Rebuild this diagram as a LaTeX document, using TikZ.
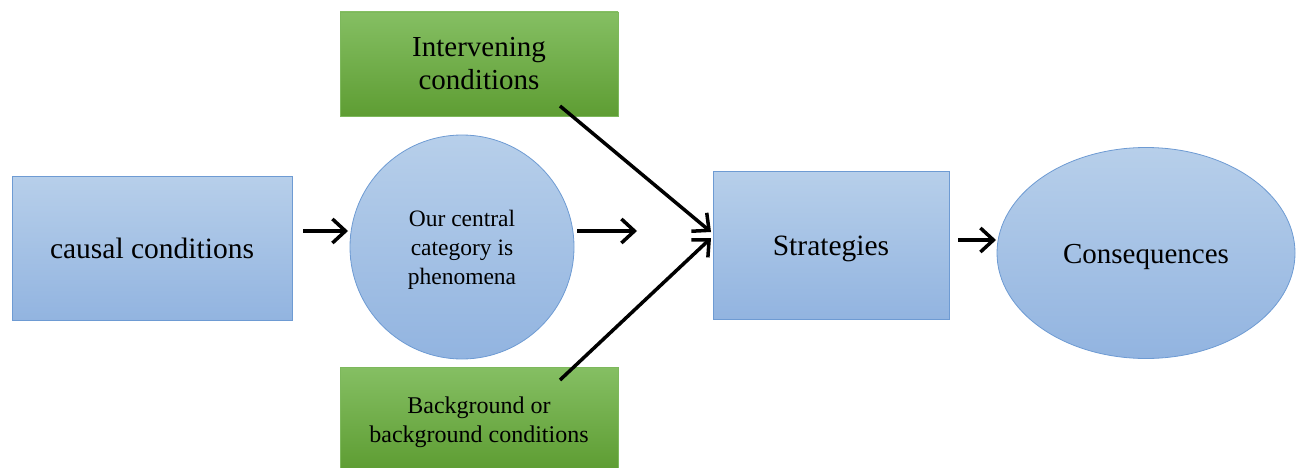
\documentclass[tikz,border=0pt]{standalone}
\usepackage{fontspec}
\setmainfont{Liberation Serif}
\usetikzlibrary{arrows.meta,shapes.geometric}
\definecolor{blueTop}{HTML}{B7CFEA}
\definecolor{blueBot}{HTML}{92B4E0}
\definecolor{blueLine}{HTML}{6E9BD3}
\definecolor{greenTop}{HTML}{85BF63}
\definecolor{greenBot}{HTML}{5E9D33}
\definecolor{greenLine}{HTML}{7DB85C}
\tikzset{
  bluebox/.style={draw=blueLine, line width=0.8pt, top color=blueTop, bottom color=blueBot, inner sep=0pt, align=center},
  greenbox/.style={draw=greenLine, line width=0.6pt, top color=greenTop, bottom color=greenBot, inner sep=0pt, align=center},
  flow/.style={line width=3.5pt, -{Straight Barb[length=13pt, width=24pt, line width=3.5pt]}}
}
\begin{document}
\begin{tikzpicture}[x=1pt, y=-1pt]
\useasboundingbox (0,0) rectangle (1300,468);
% boxes and shapes, each with its text set slightly off centre where needed
\node[bluebox, minimum width=280pt, minimum height=144pt, font=\fontsize{29.5}{34}\selectfont] (cause) at (152,248) {causal conditions};
\node[bluebox, circle, minimum size=224pt,
      label={[font=\fontsize{23.5}{29}\selectfont, align=center, yshift=-2.5pt]center:Our central\\category is\\phenomena}] (core) at (462,247) {};
\node[greenbox, minimum width=278pt, minimum height=104pt, font=\fontsize{29}{33}\selectfont] (inter) at (479,64) {Intervening\\conditions};
\node[greenbox, minimum width=278pt, minimum height=101pt,
      label={[font=\fontsize{24}{29}\selectfont, align=center, yshift=-4pt]center:Background or\\background conditions}] (back) at (479,418) {};
\node[bluebox, minimum width=236pt, minimum height=148pt,
      label={[font=\fontsize{29.5}{34}\selectfont, yshift=-4pt]center:Strategies}] (strat) at (831,245) {};
\node[bluebox, ellipse, minimum width=298pt, minimum height=211pt,
      label={[font=\fontsize{29}{34}\selectfont, yshift=-4pt]center:Consequences}] (cons) at (1146,253) {};
% connector end points
\coordinate (a1s) at (303,231);
\coordinate (a1e) at (348,231);
\coordinate (a2s) at (577,231);
\coordinate (a2e) at (637,231);
\coordinate (a3s) at (958,240);
\coordinate (a3e) at (996,240);
\coordinate (d1s) at (560,106);
\coordinate (d1e) at (711,232);
\coordinate (d2s) at (560,380);
\coordinate (d2e) at (711,238);
% connectors
\draw[flow] (a1s) -- (a1e);
\draw[flow] (a2s) -- (a2e);
\draw[flow] (a3s) -- (a3e);
\draw[flow] (d1s) -- (d1e);
\draw[flow] (d2s) -- (d2e);
\end{tikzpicture}
\end{document}
